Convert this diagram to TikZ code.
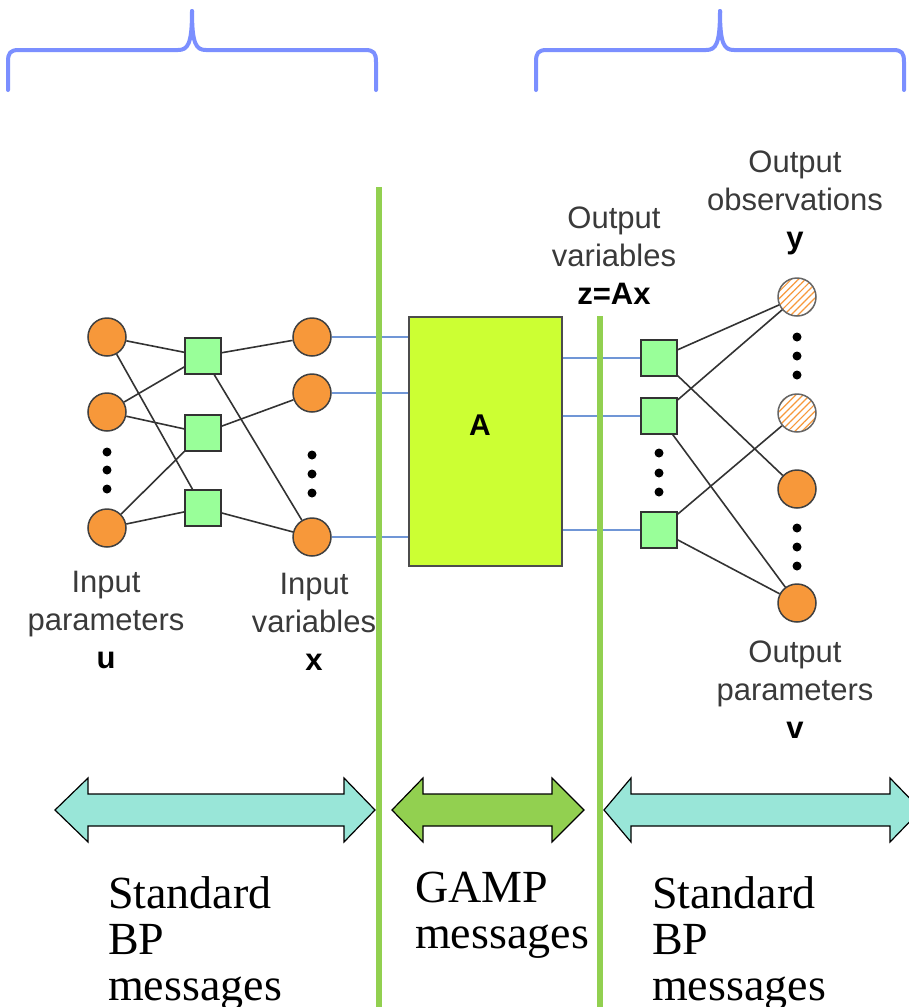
\documentclass[tikz,border=0pt]{standalone}
\usepackage{fontspec}
\usetikzlibrary{patterns.meta}
\newfontfamily\lblfont{Liberation Sans}
\newfontfamily\msgfont{Liberation Serif}
\definecolor{varorange}{HTML}{F7983A}
\definecolor{facgreen}{HTML}{99FF99}
\definecolor{matgreen}{HTML}{CCFF33}
\definecolor{sepgreen}{HTML}{92D050}
\definecolor{bracecol}{HTML}{7B8FFF}
\definecolor{linkblue}{HTML}{7096D6}
\definecolor{bparrow}{HTML}{99E6D8}
\definecolor{lbltext}{HTML}{3A3A3A}
\tikzset{
  varnode/.style={circle, minimum size=38pt, inner sep=0pt, fill=varorange, draw=black!75, line width=1.5pt},
  obsnode/.style={circle, minimum size=38pt, inner sep=0pt, draw=black!60, line width=1.5pt,
    pattern={Lines[angle=45,distance=5pt,line width=1.2pt]}, pattern color=varorange},
  facnode/.style={rectangle, minimum size=36pt, inner sep=0pt, fill=facgreen, draw=black!80, line width=1.5pt},
  dotnode/.style={circle, minimum size=9pt, inner sep=0pt, fill=black},
  edge/.style={draw=black!80, line width=1.6pt},
  link/.style={draw=linkblue, line width=1.8pt},
  sep/.style={draw=sepgreen, line width=6pt},
  bracepath/.style={draw=bracecol, line width=4pt, line cap=round, line join=round},
  lbl/.style={font=\lblfont\fontsize{31}{38}\selectfont, text=lbltext, align=center, inner sep=0pt, anchor=north},
  msg/.style={font=\msgfont\fontsize{46}{46}\selectfont, align=left, inner sep=0pt, anchor=north west},
  bigarrow/.style={draw=black, line width=1.2pt, line join=miter},
}
\begin{document}
\begin{tikzpicture}[x=1pt, y=-1pt]
\useasboundingbox (0,0) rectangle (909,1007);

% braces over the two standard BP regions
\draw[bracepath] (8,90) -- (8,62) .. controls (8,53) and (10,50) .. (19,50) -- (178,50)
  .. controls (188,50) and (192,44) .. (192,11);
\draw[bracepath] (376,90) -- (376,62) .. controls (376,53) and (374,50) .. (365,50) -- (206,50)
  .. controls (196,50) and (192,44) .. (192,11);
\draw[bracepath] (536,90) -- (536,62) .. controls (536,53) and (538,50) .. (547,50) -- (706,50)
  .. controls (716,50) and (720,44) .. (720,11);
\draw[bracepath] (904,90) -- (904,62) .. controls (904,53) and (902,50) .. (893,50) -- (734,50)
  .. controls (724,50) and (720,44) .. (720,11);

% input parameters u
\node[varnode] (u1) at (107,337) {};
\node[varnode] (u2) at (107,412) {};
\node[varnode] (u3) at (107,528) {};
\node[dotnode] (ud1) at (107,452) {};
\node[dotnode] (ud2) at (107,470) {};
\node[dotnode] (ud3) at (107,489) {};

% input factors
\node[facnode] (g1) at (203,356) {};
\node[facnode] (g2) at (203,433) {};
\node[facnode] (g3) at (203,508) {};

% input variables x
\node[varnode] (x1) at (312,337) {};
\node[varnode] (x2) at (312,393) {};
\node[varnode] (x3) at (312,537) {};
\node[dotnode] (xd1) at (312,455) {};
\node[dotnode] (xd2) at (312,474) {};
\node[dotnode] (xd3) at (312,493) {};

\draw[edge] (u1) -- (g1);
\draw[edge] (u1) -- (g3);
\draw[edge] (u2) -- (g1);
\draw[edge] (u2) -- (g2);
\draw[edge] (u3) -- (g2);
\draw[edge] (u3) -- (g3);
\draw[edge] (g1) -- (x1);
\draw[edge] (g1) -- (x3);
\draw[edge] (g2) -- (x2);
\draw[edge] (g3) -- (x3);

% linear mixing block
\node[rectangle, fill=matgreen, draw=black!70, line width=1.5pt, minimum width=153pt, minimum height=249pt, inner sep=0pt] (A) at (485.5,441.5) {};
\node[font=\lblfont\bfseries\fontsize{30}{30}\selectfont, inner sep=0pt] (Alabel) at (480,425) {A};

% output factors
\node[facnode] (h1) at (659,358) {};
\node[facnode] (h2) at (659,416) {};
\node[facnode] (h3) at (659,530) {};
\node[dotnode] (hd1) at (659,453) {};
\node[dotnode] (hd2) at (659,473) {};
\node[dotnode] (hd3) at (659,492) {};

% output observations y and parameters v
\node[obsnode] (y1) at (797,297) {};
\node[obsnode] (y2) at (797,413) {};
\node[varnode] (v1) at (797,489) {};
\node[varnode] (v2) at (797,603) {};
\node[dotnode] (yd1) at (797,337) {};
\node[dotnode] (yd2) at (797,356) {};
\node[dotnode] (yd3) at (797,375) {};
\node[dotnode] (vd1) at (797,528) {};
\node[dotnode] (vd2) at (797,547) {};
\node[dotnode] (vd3) at (797,566) {};

\draw[edge] (h1) -- (y1);
\draw[edge] (h1) -- (v1);
\draw[edge] (h2) -- (y1);
\draw[edge] (h2) -- (v2);
\draw[edge] (h3) -- (y2);
\draw[edge] (h3) -- (v2);

% links through the mixing block
\draw[link] (x1) -- (x1 -| A.west);
\draw[link] (x2) -- (x2 -| A.west);
\draw[link] (x3) -- (x3 -| A.west);
\draw[link] (A.east |- h1) -- (h1);
\draw[link] (A.east |- h2) -- (h2);
\draw[link] (A.east |- h3) -- (h3);

% region separators
\coordinate (s1top) at (379,187);
\coordinate (s1bot) at (379,1007);
\coordinate (s2top) at (600,316);
\coordinate (s2bot) at (600,1007);
\draw[sep] (s1top) -- (s1bot);
\draw[sep] (s2top) -- (s2bot);

% labels
\node[lbl] (lu) at (106,571) {Input\\parameters\\\textcolor{black}{\bfseries u}};
\node[lbl] (lx) at (314,573) {Input\\variables\\\textcolor{black}{\bfseries x}};
\node[lbl] (lz) at (614,207) {Output\\variables\\\textcolor{black}{\bfseries z=Ax}};
\node[lbl] (ly) at (795,151) {Output\\observations\\\textcolor{black}{\bfseries y}};
\node[lbl] (lv) at (795,641) {Output\\parameters\\\textcolor{black}{\bfseries v}};

% message arrows
\draw[bigarrow, fill=bparrow] (55,810) -- (88,778) -- (88,794) -- (344,794) -- (344,778) -- (375,810)
  -- (344,842) -- (344,826) -- (88,826) -- (88,842) -- cycle;
\draw[bigarrow, fill=sepgreen] (392,810) -- (423,778) -- (423,794) -- (552,794) -- (552,778) -- (584,810)
  -- (552,842) -- (552,826) -- (423,826) -- (423,842) -- cycle;
\draw[bigarrow, fill=bparrow] (604,810) -- (631,778) -- (631,794) -- (890,794) -- (890,778) -- (921,810)
  -- (890,842) -- (890,826) -- (631,826) -- (631,842) -- cycle;

\node[msg] (m1) at (108,876) {Standard\\BP\\messages};
\node[msg] (m2) at (415,872) {GAMP\\messages};
\node[msg] (m3) at (652,876) {Standard\\BP\\messages};
\end{tikzpicture}
\end{document}
